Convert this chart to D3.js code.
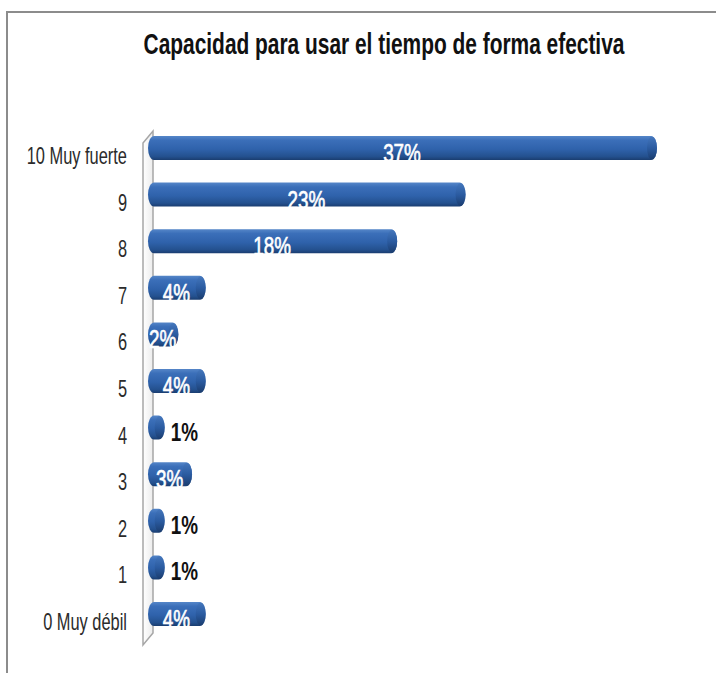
<!DOCTYPE html>
<html>
<head>
<meta charset="utf-8">
<script src="https://cdn.jsdelivr.net/npm/d3@7"></script>
<style>
  html, body { margin: 0; padding: 0; background: #fff; }
  svg { display: block; }
</style>
</head>
<body>
<div id="chart"></div>
<script>
// Data
const TITLE = "Capacidad para usar el tiempo de forma efectiva";
const categories = ["10 Muy fuerte", "9", "8", "7", "6", "5", "4", "3", "2", "1", "0 Muy débil"];
const values = [37, 23, 18, 4, 2, 4, 1, 3, 1, 1, 4];

const W = 716, H = 673;
// no narrow font installed: squeeze Liberation Sans horizontally instead
const FONT = "'Liberation Sans', Arial, sans-serif";
const SX = 0.82;
const barH = 24;

const svg = d3.select("#chart").append("svg")
    .attr("width", W)
    .attr("height", H);

// gradients
const defs = svg.append("defs");
const barGrad = defs.append("linearGradient")
    .attr("id", "barGrad").attr("x1", 0).attr("y1", 0).attr("x2", 0).attr("y2", 1);
[["0%", "#5586c8"], ["18%", "#3b6fb9"], ["55%", "#2f62ab"], ["85%", "#24518f"], ["100%", "#1a3d70"]]
    .forEach(([o, c]) => barGrad.append("stop").attr("offset", o).attr("stop-color", c));
const capGrad = defs.append("linearGradient")
    .attr("id", "capGrad").attr("x1", 0).attr("y1", 0).attr("x2", 0).attr("y2", 1);
[["0%", "#4476bb"], ["50%", "#2a5a9f"], ["100%", "#1a3b6c"]]
    .forEach(([o, c]) => capGrad.append("stop").attr("offset", o).attr("stop-color", c));
const wallGrad = defs.append("linearGradient")
    .attr("id", "wallGrad").attr("x1", 0).attr("y1", 0).attr("x2", 1).attr("y2", 0);
[["0%", "#ffffff"], ["100%", "#ececec"]]
    .forEach(([o, c]) => wallGrad.append("stop").attr("offset", o).attr("stop-color", c));

// frame lines (top and left)
svg.append("line").attr("x1", 6).attr("x2", W).attr("y1", 12).attr("y2", 12)
    .attr("stroke", "#8c8c8c").attr("stroke-width", 2);
svg.append("line").attr("x1", 7).attr("x2", 7).attr("y1", 12).attr("y2", H)
    .attr("stroke", "#8c8c8c").attr("stroke-width", 2);

// title
svg.append("text")
    .attr("transform", `translate(384,54) scale(${SX},1.15)`)
    .attr("text-anchor", "middle")
    .attr("font-family", FONT)
    .attr("font-weight", "bold")
    .attr("font-size", 25.5)
    .attr("fill", "#111")
    .text(TITLE);

// scales
const y = d3.scalePoint().domain(categories).range([148, 614]);
const x = d3.scaleLinear().domain([0, 37]).range([151, 657]);

// 3D side wall
const wTop = y(categories[0]) - 17, wBot = y(categories[categories.length - 1]) + 19;
const x0 = x(0);
svg.append("path")
    .attr("d", `M${x0 - 8},${wTop + 12}L${x0 + 2},${wTop}L${x0 + 2},${wBot}L${x0 - 8},${wBot + 12}Z`)
    .attr("fill", "url(#wallGrad)")
    .attr("stroke", "#a6a6a6")
    .attr("stroke-width", 1.5);

// category labels
svg.append("g").selectAll("text")
    .data(categories)
    .join("text")
    .attr("transform", d => `translate(127,${y(d) + 16}) scale(${SX},1.15)`)
    .attr("text-anchor", "end")
    .attr("font-family", FONT)
    .attr("font-size", 20)
    .attr("fill", "#2b2b2b")
    .text(d => d);

// bars
const bars = svg.append("g").selectAll("g")
    .data(categories.map((c, i) => ({ cat: c, v: values[i] })))
    .join("g");

bars.append("rect")
    .attr("x", x(0) - 3)
    .attr("y", d => y(d.cat) - barH / 2)
    .attr("width", d => x(d.v) - x(0) + 3)
    .attr("height", barH)
    .attr("rx", 6).attr("ry", barH / 2)
    .attr("fill", "url(#barGrad)");

bars.append("ellipse")
    .attr("cx", d => x(d.v) - 5)
    .attr("cy", d => y(d.cat))
    .attr("rx", 5)
    .attr("ry", barH / 2 - 0.5)
    .attr("fill", "url(#capGrad)")
    .attr("opacity", 0.85);

// value labels: white inside the bar, black after the thinnest bars
bars.append("text")
    .attr("transform", d => d.v > 1
        ? `translate(${(x(0) + x(d.v)) / 2 - 2},${y(d.cat) + 14}) scale(${SX},1.15)`
        : `translate(${x(d.v) + 6},${y(d.cat) + 13}) scale(${SX},1.15)`)
    .attr("text-anchor", d => d.v > 1 ? "middle" : "start")
    .attr("font-family", FONT)
    .attr("font-size", 23)
    .attr("font-weight", d => d.v > 1 ? "normal" : "bold")
    .attr("fill", d => d.v > 1 ? "#ffffff" : "#111")
    .attr("stroke", d => d.v > 1 ? "#ffffff" : "none")
    .attr("stroke-width", 0.6)
    .text(d => d.v + "%");
</script>
</body>
</html>
